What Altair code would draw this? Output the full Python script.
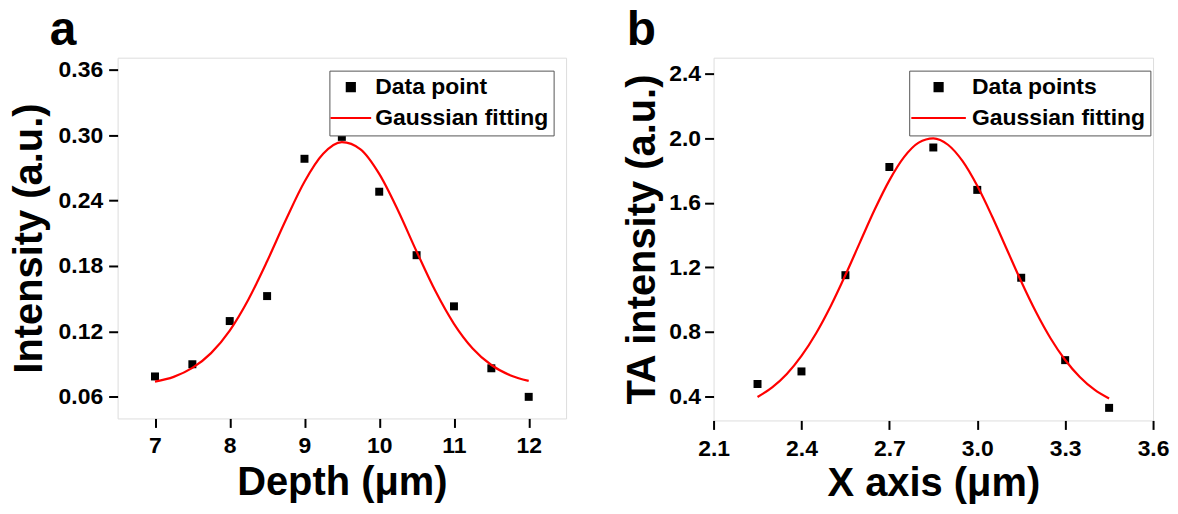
import altair as alt
import pandas as pd

FONT = "Liberation Sans"

# ---------------- panel a ----------------
a_x = [7, 7.5, 8, 8.5, 9, 9.5, 10, 10.5, 11, 11.5, 12]
a_y = [0.0787, 0.0899, 0.1295, 0.1524, 0.2783, 0.2984, 0.2481, 0.1899, 0.1430, 0.0862, 0.0600]
a_fit_x = [7.0, 7.25, 7.5, 7.75, 8.0, 8.25, 8.5, 8.75, 9.0, 9.25, 9.5,
           9.75, 10.0, 10.25, 10.5, 10.75, 11.0, 11.25, 11.5, 11.75, 12.0]
a_fit_y = [0.0739, 0.0783, 0.0865, 0.1001, 0.1208, 0.1493, 0.1843, 0.2221, 0.2572, 0.2828, 0.2935,
           0.2869, 0.2644, 0.2311, 0.1933, 0.1572, 0.1270, 0.1044, 0.0892, 0.0799, 0.0747]
a_series = ["Data point", "Gaussian fitting"]
a_xticks = [7, 8, 9, 10, 11, 12]
a_yticks = [0.06, 0.12, 0.18, 0.24, 0.30, 0.36]

# ---------------- panel b ----------------
b_x = [2.25, 2.40, 2.55, 2.70, 2.85, 3.00, 3.15, 3.30, 3.45]
b_y = [0.476, 0.554, 1.151, 1.822, 1.943, 1.680, 1.135, 0.624, 0.328]
b_fit_x = [2.25, 2.30, 2.35, 2.40, 2.45, 2.50, 2.55, 2.60, 2.65, 2.70, 2.75, 2.80, 2.85,
           2.90, 2.95, 3.00, 3.05, 3.10, 3.15, 3.20, 3.25, 3.30, 3.35, 3.40, 3.45]
b_fit_y = [0.395, 0.455, 0.538, 0.650, 0.791, 0.960, 1.152, 1.356, 1.558, 1.739, 1.883, 1.973, 2.000,
           1.960, 1.858, 1.705, 1.518, 1.315, 1.112, 0.924, 0.760, 0.625, 0.520, 0.441, 0.386]
b_series = ["Data points", "Gaussian fitting"]
b_xticks = [2.1, 2.4, 2.7, 3.0, 3.3, 3.6]
b_yticks = [0.4, 0.8, 1.2, 1.6, 2.0, 2.4]

SQUARE = "M-0.5,-0.5H0.5V0.5H-0.5Z"
DASH_A = "M-2.55,0H2.55"
DASH_B = "M-3.42,0H3.42"


def panel(px, py, fx, fy, series, dash, xdom, ydom, xticks, yticks, xfmt, yfmt,
          xtitle, ytitle, letter, w, h, lx, ly, sym_off, lab_off,
          letter_dx, y_lp, y_tp, x_lp, x_tp):
    pts = pd.DataFrame({"x": px, "y": py, "series": series[0]})
    fit = pd.DataFrame({"x": fx, "y": fy, "series": series[1]})

    lab = dict(labelFont=FONT, labelFontSize=23, labelFontWeight="bold", labelColor="black",
               titleFont=FONT, titleFontSize=40, titleFontWeight="bold", titleColor="black",
               tickSize=9, tickWidth=2, tickColor="black", grid=False, domain=False,
               labelFlush=False, labelOverlap=False)
    xenc = alt.X("x:Q", scale=alt.Scale(domain=xdom, nice=False, zero=False),
                 axis=alt.Axis(values=xticks, format=xfmt, title=xtitle,
                               labelPadding=x_lp, titlePadding=x_tp, **lab))
    yenc = alt.Y("y:Q", scale=alt.Scale(domain=ydom, nice=False, zero=False),
                 axis=alt.Axis(values=yticks, format=yfmt, title=ytitle,
                               labelPadding=y_lp, titlePadding=y_tp, **lab))
    leg = dict(title=None, orient="none", legendX=lx, legendY=ly,
               labelFont=FONT, labelFontSize=23, labelFontWeight="bold", labelColor="black",
               labelLimit=400, labelOffset=lab_off, symbolOffset=sym_off, symbolSize=256,
               symbolStrokeWidth=2.2, symbolOpacity=1, padding=5, rowPadding=7,
               strokeColor="#555555", fillColor="white", cornerRadius=0)
    color = alt.Color("series:N", scale=alt.Scale(domain=series, range=["black", "red"]),
                      legend=alt.Legend(**leg))
    shape = alt.Shape("series:N", scale=alt.Scale(domain=series, range=[SQUARE, dash]),
                      legend=alt.Legend(**leg))

    points = alt.Chart(pts).mark_point(filled=True, opacity=1, size=256).encode(
        x=xenc, y=yenc, color=color, shape=shape)
    line = alt.Chart(fit).mark_line(strokeWidth=2.2, interpolate="monotone").encode(
        x=xenc, y=yenc, color=color)
    return alt.layer(points, line).properties(
        width=w, height=h,
        title=alt.TitleParams(letter, anchor="start", frame="group", dx=letter_dx,
                              font=FONT, fontSize=48, fontWeight="bold", color="black",
                              baseline="bottom", offset=-45))


left = panel(a_x, a_y, a_fit_x, a_fit_y, a_series, DASH_A, [6.5, 12.5], [0.0402, 0.371],
             a_xticks, a_yticks, "d", ".2f", "Depth (\u03bcm)", "Intensity (a.u.)",
             "a", 450, 362, 212.5, 13, 5, 13, -68, 6, 9, 7, 5)
right = panel(b_x, b_y, b_fit_x, b_fit_y, b_series, DASH_B, [2.1, 3.6], [0.25, 2.5],
              b_xticks, b_yticks, ".1f", ".1f", "X axis (\u03bcm)", "TA intensity (a.u.)",
              "b", 441, 364, 196.3, 13, 13, 22, -87, 4, 6, 8, 3)

chart = alt.hconcat(left, right, spacing=55).resolve_scale(
    color="independent", shape="independent", x="independent", y="independent"
).resolve_legend(color="independent", shape="independent").properties(
    padding={"left": 0, "top": -3, "right": 0, "bottom": 0}
).configure_view(stroke="black", strokeWidth=2.2).configure(background="white")

chart.save("out.html", embed_options={"renderer": "svg", "actions": False})
